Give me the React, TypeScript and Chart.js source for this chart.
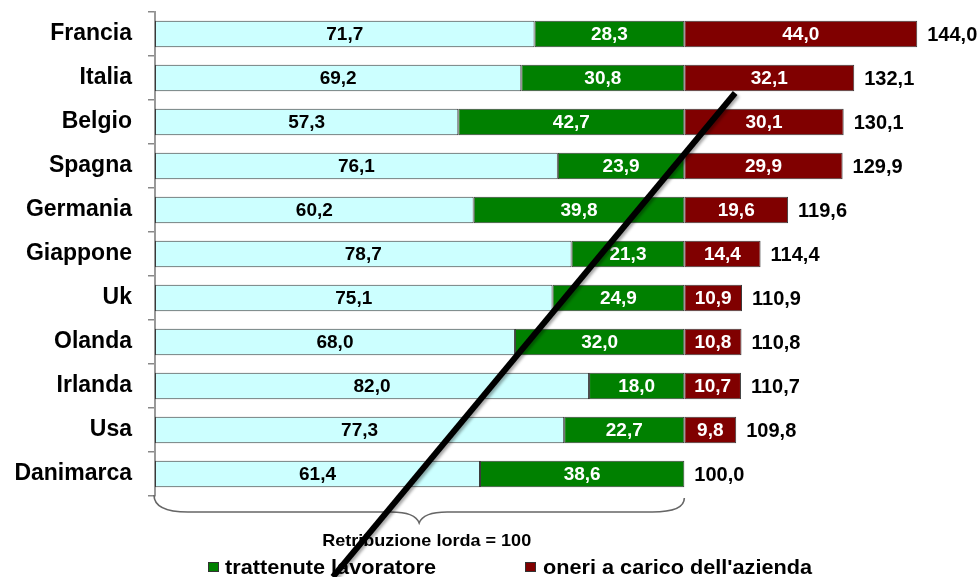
import React, { useEffect, useRef } from "react";
import { Chart, registerables } from "chart.js";

Chart.register(...registerables);

const categories = ["Francia", "Italia", "Belgio", "Spagna", "Germania", "Giappone", "Uk", "Olanda", "Irlanda", "Usa", "Danimarca"];
const netto = [71.7, 69.2, 57.3, 76.1, 60.2, 78.7, 75.1, 68.0, 82.0, 77.3, 61.4];
const trattenute = [28.3, 30.8, 42.7, 23.9, 39.8, 21.3, 24.9, 32.0, 18.0, 22.7, 38.6];
const oneri = [44.0, 32.1, 30.1, 29.9, 19.6, 14.4, 10.9, 10.8, 10.7, 9.8, 0];
const totals = [144.0, 132.1, 130.1, 129.9, 119.6, 114.4, 110.9, 110.8, 110.7, 109.8, 100.0];
const seriesNames = ["retribuzione netta", "trattenute lavoratore", "oneri a carico dell'azienda"];
const braceLabel = "Retribuzione lorda = 100";
// overlay slash, in data coordinates (x value, category index)
const slashStart = { x: 109.6, y: 1.34 };
const slashEnd = { x: 33.6, y: 12.34 };

const FONT = '"Liberation Sans", Arial, sans-serif';
const COLORS = ["#CCFFFF", "#008000", "#800000"];
const fmt = (v: number) => v.toFixed(1).replace(".", ",");

function fitText(ctx: CanvasRenderingContext2D, text: string, left: number, baseline: number, width: number) {
  const w = ctx.measureText(text).width;
  ctx.save();
  ctx.translate(left, baseline);
  ctx.scale(width / w, 1);
  ctx.textAlign = "left";
  ctx.textBaseline = "alphabetic";
  ctx.fillText(text, 0, 0);
  ctx.restore();
}

const overlayPlugin = {
  id: "overlay",
  afterDatasetsDraw(chart: any) {
    const ctx: CanvasRenderingContext2D = chart.ctx;
    const xs = chart.scales.x;
    const ys = chart.scales.y;
    ctx.save();
    chart.data.datasets.forEach((ds: any, di: number) => {
      const meta = chart.getDatasetMeta(di);
      meta.data.forEach((bar: any, i: number) => {
        const v = ds.data[i];
        if (!v) return;
        const p = bar.getProps(["x", "base", "y"], true);
        ctx.fillStyle = di === 0 ? "#000" : "#fff";
        ctx.font = `bold 19px ${FONT}`;
        ctx.textAlign = "center";
        ctx.textBaseline = "middle";
        ctx.fillText(fmt(v), (p.x + p.base) / 2, p.y + 1);
      });
    });
    totals.forEach((t, i) => {
      ctx.fillStyle = "#000";
      ctx.font = `bold 20px ${FONT}`;
      ctx.textAlign = "left";
      ctx.textBaseline = "middle";
      ctx.fillText(fmt(t), xs.getPixelForValue(t) + 10, ys.getPixelForValue(i) + 1);
    });
    ctx.restore();
  },
  afterDraw(chart: any) {
    const ctx: CanvasRenderingContext2D = chart.ctx;
    const xs = chart.scales.x;
    const ys = chart.scales.y;
    const bottom = chart.chartArea.bottom;
    const x0 = xs.getPixelForValue(0) - 1;
    const x1 = xs.getPixelForValue(100);
    const mid = (x0 + x1) / 2;
    const hy = bottom + 16;
    ctx.save();
    // brace
    ctx.strokeStyle = "#666";
    ctx.lineWidth = 1.6;
    ctx.beginPath();
    ctx.moveTo(x0, bottom - 1);
    ctx.quadraticCurveTo(x0, hy, x0 + 34, hy);
    ctx.lineTo(mid - 28, hy);
    ctx.quadraticCurveTo(mid - 4, hy, mid, hy + 11);
    ctx.quadraticCurveTo(mid + 4, hy, mid + 28, hy);
    ctx.lineTo(x1 - 32, hy);
    ctx.quadraticCurveTo(x1, hy, x1, bottom + 2);
    ctx.stroke();
    // brace label
    ctx.fillStyle = "#000";
    ctx.font = `bold 17px ${FONT}`;
    fitText(ctx, braceLabel, mid - 97, bottom + 50, 209);
    // legend (two entries)
    const legendItems = [
      { idx: 1, sq: 208, tx: 225, w: 211 },
      { idx: 2, sq: 525, tx: 543, w: 269 },
    ];
    legendItems.forEach((it) => {
      ctx.fillStyle = COLORS[it.idx];
      ctx.fillRect(it.sq, 562, 11, 10);
      ctx.strokeStyle = "#333";
      ctx.lineWidth = 1;
      ctx.strokeRect(it.sq + 0.5, 562.5, 10, 9);
      ctx.fillStyle = "#000";
      ctx.font = `bold 21px ${FONT}`;
      fitText(ctx, seriesNames[it.idx], it.tx, 574, it.w);
    });
    // slash overlay
    ctx.shadowColor = "rgba(0,0,0,0.35)";
    ctx.shadowOffsetX = 2;
    ctx.shadowOffsetY = 2;
    ctx.shadowBlur = 3;
    ctx.strokeStyle = "#000";
    ctx.lineWidth = 6;
    ctx.lineCap = "butt";
    ctx.beginPath();
    ctx.moveTo(xs.getPixelForValue(slashStart.x), ys.getPixelForValue(slashStart.y));
    ctx.lineTo(xs.getPixelForValue(slashEnd.x), ys.getPixelForValue(slashEnd.y));
    ctx.stroke();
    ctx.restore();
  },
};

export default function App() {
  const ref = useRef<HTMLCanvasElement | null>(null);
  useEffect(() => {
    if (!ref.current) return;
    const chart = new Chart(ref.current, {
      type: "bar",
      data: {
        labels: categories,
        datasets: [netto, trattenute, oneri].map((d, i) => ({
          label: seriesNames[i],
          data: d,
          backgroundColor: COLORS[i],
          borderColor: "#3a3a3a",
          borderWidth: 1,
          borderSkipped: false,
          barPercentage: 0.6,
          categoryPercentage: 1,
        })),
      },
      options: {
        indexAxis: "y",
        responsive: false,
        animation: false,
        layout: { padding: { top: 12, bottom: 81, right: 29, left: 0 } },
        plugins: { legend: { display: false }, tooltip: { enabled: false }, title: { display: false } },
        scales: {
          x: { stacked: true, min: 0, max: 150, display: false },
          y: {
            stacked: true,
            afterFit: (scale: any) => {
              scale.width = 155;
              scale.paddingTop = 0;
              scale.paddingBottom = 0;
            },
            border: { display: true, color: "#999", width: 2 },
            grid: { display: true, drawOnChartArea: false, drawTicks: true, tickLength: 7, color: "#888", lineWidth: 1.5, offset: true },
            ticks: { color: "#000", font: { family: FONT, size: 23, weight: "bold" }, padding: 16 },
          },
        },
      } as any,
      plugins: [overlayPlugin],
    });
    return () => chart.destroy();
  }, []);
  return (
    <div style={{ position: "absolute", left: 0, top: 0, width: 978, height: 577, background: "#fff" }}>
      <canvas ref={ref} width={978} height={577} />
    </div>
  );
}
